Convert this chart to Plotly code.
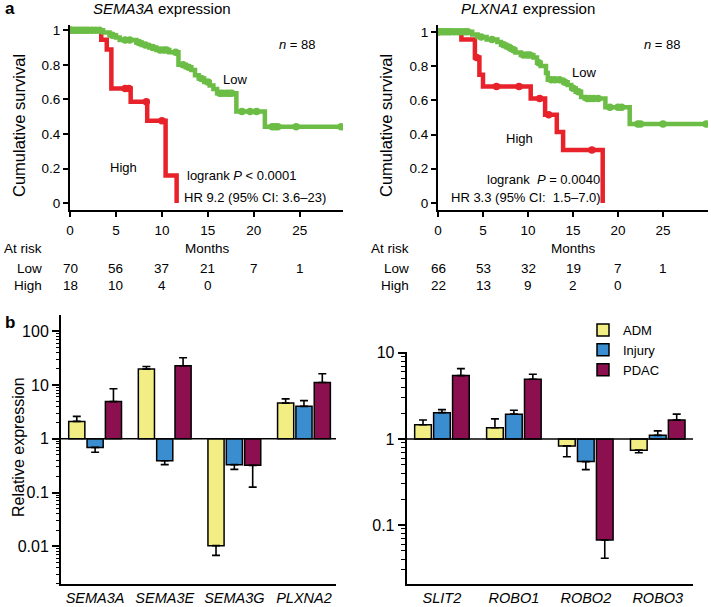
import numpy as np
import plotly.graph_objects as go

W, H = 711, 607
FONT = "Liberation Sans, Arial, Helvetica, sans-serif"
GREEN = "#6BBD45"
RED = "#E8222A"
C_ADM = "#F2EE84"
C_INJ = "#3A8ECF"
C_PDAC = "#8C1050"

# ---------------- Kaplan-Meier data ----------------
# SEMA3A
sema_low_t = [0, 3.6, 4.3, 5.0, 5.4, 7.2, 7.8, 8.6, 9.4, 10.8, 11.8, 12.6, 13.2, 13.6, 14.0, 14.6, 15.2, 15.6, 16.0, 18.1, 21.2]
sema_low_s = [1, 0.986, 0.971, 0.957, 0.943, 0.929, 0.914, 0.90, 0.886, 0.872, 0.80, 0.785, 0.77, 0.74, 0.72, 0.70, 0.68, 0.66, 0.635, 0.53, 0.441]
sema_low_end = 29.7
sema_low_cens = [0.2, 0.5, 0.8, 1.1, 1.4, 1.7, 2.0, 2.4, 2.8, 3.2, 4.6, 6.0, 6.5, 7.5, 8.2, 9.0, 9.8, 10.2, 10.5, 11.5,
                 12.3, 12.9, 14.3, 15.0, 16.3, 16.6, 17.0, 17.3, 17.6, 18.7, 19.6, 20.3, 22.0, 22.3, 22.6, 24.6, 29.5]
sema_high_t = [0, 3.4, 4.0, 4.5, 6.6, 8.4, 10.4, 11.6]
sema_high_s = [1, 0.944, 0.889, 0.663, 0.586, 0.476, 0.16, 0.0]
sema_high_end = 11.6
sema_high_cens = [6.0, 6.4, 8.3, 10.0]

# PLXNA1
plx_low_t = [0, 3.8, 4.4, 5.4, 6.6, 7.0, 7.6, 8.1, 8.6, 9.2, 10.6, 11.0, 11.4, 12.0, 12.2, 13.9, 14.4, 14.8, 15.3, 15.9, 16.3, 18.6, 21.3]
plx_low_s = [1, 0.985, 0.97, 0.955, 0.94, 0.925, 0.91, 0.895, 0.88, 0.865, 0.85, 0.82, 0.80, 0.76, 0.72, 0.705, 0.69, 0.67, 0.65, 0.62, 0.61, 0.56, 0.462]
plx_low_end = 30.0
plx_low_cens = [0.2, 0.5, 0.8, 1.1, 1.4, 1.8, 2.2, 2.6, 3.0, 3.3, 4.8, 6.0, 7.3, 7.9, 8.4, 9.5, 9.9, 10.2, 11.2, 12.6, 13.0,
                13.5, 14.1, 15.0, 15.6, 16.6, 16.9, 17.3, 17.8, 19.1, 20.0, 20.4, 22.2, 22.5, 25.0, 29.8]
plx_high_t = [0, 2.6, 4.1, 4.6, 5.0, 10.3, 11.9, 13.2, 13.9, 18.3]
plx_high_s = [1, 0.955, 0.85, 0.75, 0.68, 0.61, 0.515, 0.415, 0.31, 0.0]
plx_high_end = 18.3
plx_high_cens = [4.3, 6.5, 9.0, 11.3, 12.3, 17.1]

risk_times = [0, 5, 10, 15, 20, 25]
sema_risk_low = [70, 56, 37, 21, 7, 1]
sema_risk_high = [18, 10, 4, 0]
plx_risk_low = [66, 53, 32, 19, 7, 1]
plx_risk_high = [22, 13, 9, 2, 0]

# ---------------- Bar data (relative expression) ----------------
genes_left = ["SEMA3A", "SEMA3E", "SEMA3G", "PLXNA2"]
adm_left = [2.1, 19.7, 0.0103, 4.6]
inj_left = [0.69, 0.39, 0.33, 4.0]
pdac_left = [4.9, 22.7, 0.32, 11.1]
adm_left_err = [2.6, 22.0, 0.0068, 5.5]
inj_left_err = [0.56, 0.33, 0.27, 5.1]
pdac_left_err = [8.5, 32.0, 0.126, 16.1]

genes_right = ["SLIT2", "ROBO1", "ROBO2", "ROBO3"]
adm_right = [1.46, 1.35, 0.83, 0.74]
inj_right = [2.02, 1.94, 0.545, 1.10]
pdac_right = [5.44, 4.94, 0.067, 1.66]
adm_right_err = [1.66, 1.71, 0.62, 0.69]
inj_right_err = [2.19, 2.15, 0.44, 1.24]
pdac_right_err = [6.56, 5.65, 0.041, 1.94]

left_ticks = [0.01, 0.1, 1, 10, 100]
right_ticks = [0.1, 1, 10]


def px(x):
    return x / W


def py(y):
    return 1 - y / H


fig = go.Figure()


def km(t, s, end, cens, color, xa, ya):
    xs = list(t) + ([end] if end > t[-1] else [])
    ys = list(s) + ([s[-1]] if end > t[-1] else [])
    fig.add_trace(go.Scatter(x=xs, y=ys, mode="lines", line=dict(color=color, width=4.5, shape="hv"),
                             xaxis=xa, yaxis=ya, showlegend=False, hoverinfo="skip"))
    ta = np.array(t)
    cy = [s[np.searchsorted(ta, c, side="right") - 1] for c in cens]
    fig.add_trace(go.Scatter(x=[0] + list(cens), y=[1] + cy, mode="markers",
                             marker=dict(color=color, size=7.5, symbol="circle"),
                             xaxis=xa, yaxis=ya, showlegend=False))


km(sema_high_t, sema_high_s, sema_high_end, sema_high_cens, RED, "x", "y")
km(sema_low_t, sema_low_s, sema_low_end, sema_low_cens, GREEN, "x", "y")
km(plx_high_t, plx_high_s, plx_high_end, plx_high_cens, RED, "x2", "y2")
km(plx_low_t, plx_low_s, plx_low_end, plx_low_cens, GREEN, "x2", "y2")


# Bars are drawn on axes measured in log10 units (log-scale chart); bar grows from 1 (=10^0).
def bars(genes, vals, ends, name, color, xa, ya, legend):
    lv = np.log10(vals)
    le = np.log10(ends)
    plus = [max(e - v, 0) if v >= 0 else 0 for v, e in zip(lv, le)]
    minus = [max(v - e, 0) if v < 0 else 0 for v, e in zip(lv, le)]
    fig.add_trace(go.Bar(x=genes, y=lv, name=name, marker=dict(color=color, line=dict(color="black", width=1.5)),
                         error_y=dict(type="data", symmetric=False, array=plus, arrayminus=minus,
                                      color="black", thickness=1.6, width=4),
                         xaxis=xa, yaxis=ya, showlegend=legend, hoverinfo="skip"))


bars(genes_left, adm_left, adm_left_err, "ADM", C_ADM, "x3", "y3", True)
bars(genes_left, inj_left, inj_left_err, "Injury", C_INJ, "x3", "y3", True)
bars(genes_left, pdac_left, pdac_left_err, "PDAC", C_PDAC, "x3", "y3", True)
bars(genes_right, adm_right, adm_right_err, "ADM", C_ADM, "x4", "y4", False)
bars(genes_right, inj_right, inj_right_err, "Injury", C_INJ, "x4", "y4", False)
bars(genes_right, pdac_right, pdac_right_err, "PDAC", C_PDAC, "x4", "y4", False)

# invisible traces that carry the minor-tick overlay axes (so those axes get drawn)
fig.add_trace(go.Scatter(x=genes_left, y=np.log10(adm_left), mode="markers", marker=dict(opacity=0),
                         xaxis="x3", yaxis="y5", showlegend=False, hoverinfo="skip"))
fig.add_trace(go.Scatter(x=genes_right, y=np.log10(adm_right), mode="markers", marker=dict(opacity=0),
                         xaxis="x4", yaxis="y6", showlegend=False, hoverinfo="skip"))

axcommon = dict(showline=True, linecolor="black", linewidth=2, ticks="outside", tickcolor="black",
                tickwidth=1.5, ticklen=5, showgrid=False, zeroline=False, automargin=False,
                tickfont=dict(family=FONT, size=13.5, color="black"))

km_xticks = [0, 5, 10, 15, 20, 25]
km_yticks = [0, 0.2, 0.4, 0.6, 0.8, 1]
km_ytext = ["0", "0.2", "0.4", "0.6", "0.8", "1"]


def minor_log_positions(lo, hi):
    out = []
    for e in range(lo, hi):
        for k in range(2, 10):
            out.append(float(np.log10(k * 10.0 ** e)))
    return out


def fmt(v):
    return ("%g" % v)


minor_axis = dict(showline=False, showgrid=False, zeroline=False, automargin=False,
                  ticks="outside", ticklen=4.5, tickwidth=1.2, tickcolor="black", showticklabels=False,
                  tickmode="array", side="left")

fig.update_layout(
    template="none",
    width=W, height=H, margin=dict(l=0, r=0, t=0, b=0, autoexpand=False),
    paper_bgcolor="white", plot_bgcolor="white",
    font=dict(family=FONT, color="black"),
    barmode="group", bargap=0.21, bargroupgap=0.12,
    hovermode=False,
    xaxis=dict(axcommon, domain=[px(70), px(343)], range=[0, 29.7], anchor="y",
               tickmode="array", tickvals=km_xticks, ticklabelstandoff=2),
    yaxis=dict(axcommon, domain=[py(210), py(25)], range=[-0.04, 1.03], anchor="x",
               tickmode="array", tickvals=km_yticks, ticktext=km_ytext),
    xaxis2=dict(axcommon, domain=[px(438), px(708)], range=[0, 30], anchor="y2",
                tickmode="array", tickvals=km_xticks, ticklabelstandoff=2),
    yaxis2=dict(axcommon, domain=[py(210), py(25)], range=[-0.041, 1.04], anchor="x2",
                tickmode="array", tickvals=km_yticks, ticktext=km_ytext),
    xaxis3=dict(axcommon, domain=[px(61), px(336)], range=[-0.49, 3.46], anchor="y3", type="category",
                ticks="", ticklen=0, ticklabelstandoff=0,
                tickfont=dict(family=FONT, size=14.5, color="black", style="italic")),
    yaxis3=dict(axcommon, domain=[py(584), py(315)], range=[-2.70, 2.30], anchor="x3",
                tickmode="array", tickvals=[float(np.log10(v)) for v in left_ticks],
                ticktext=[fmt(v) for v in left_ticks], ticklen=7,
                tickfont=dict(family=FONT, size=16, color="black")),
    yaxis5=dict(minor_axis, overlaying="y3", anchor="x3", range=[-2.70, 2.30],
                tickvals=minor_log_positions(-3, 3)),
    xaxis4=dict(axcommon, domain=[px(406.7), px(693)], range=[-0.49, 3.49], anchor="y4", type="category",
                ticks="", ticklen=0, ticklabelstandoff=0,
                tickfont=dict(family=FONT, size=14.5, color="black", style="italic")),
    yaxis4=dict(axcommon, domain=[py(584), py(352)], range=[-1.686, 1.01], anchor="x4",
                tickmode="array", tickvals=[float(np.log10(v)) for v in right_ticks],
                ticktext=[fmt(v) for v in right_ticks], ticklen=7,
                tickfont=dict(family=FONT, size=16, color="black")),
    yaxis6=dict(minor_axis, overlaying="y4", anchor="x4", range=[-1.686, 1.01],
                tickvals=minor_log_positions(-2, 1)),
    legend=dict(x=px(583), y=py(315), xanchor="left", yanchor="top", bgcolor="rgba(0,0,0,0)",
                font=dict(family=FONT, size=13, color="black"), tracegroupgap=0, itemclick=False),
)

# baseline at relative expression 1 in bar charts
for xa, ya in (("x3", "y3"), ("x4", "y4")):
    fig.add_shape(type="line", xref=xa + " domain", yref=ya, x0=0, x1=1, y0=0, y1=0,
                  line=dict(color="black", width=1.5))

ann = []


def A(text, x, y, size=13, xanchor="center", angle=0, bold=False):
    ann.append(dict(text=("<b>%s</b>" % text) if bold else text, x=px(x), y=py(y), xref="paper", yref="paper",
                    showarrow=False, xanchor=xanchor, yanchor="middle", textangle=angle,
                    font=dict(family=FONT, size=size, color="black")))


A("a", 3, 9, 17, "left", bold=True)
A("b", 3, 322, 17, "left", bold=True)
A("<i>SEMA3A</i> expression", 162, 9, 15)
A("<i>PLXNA1</i> expression", 528, 9, 15)
A("Cumulative survival", 19, 126, 16.5, angle=-90)
A("Cumulative survival", 386, 125, 16.5, angle=-90)
A("<i>n</i> = 88", 297, 45, 13)
A("<i>n</i> = 88", 662, 45, 13)
A("Low", 235, 80, 13)
A("Low", 584, 73, 13)
A("High", 123, 168, 13)
A("High", 519, 139, 13)
A("logrank <i>P</i> &lt; 0.0001", 185, 176, 13, "left")
A("HR 9.2 (95% CI: 3.6–23)", 182, 197, 13, "left")
A("logrank  <i>P</i> = 0.0040", 485, 179, 13, "left")
A("HR 3.3 (95% CI:  1.5–7.0)", 449, 197, 13, "left")
A("Relative expression", 18, 447, 16, angle=-90)

# At-risk tables
for xa, xoff, low, high in (("x", 0, sema_risk_low, sema_risk_high), ("x2", 367, plx_risk_low, plx_risk_high)):
    A("At risk", 2 + xoff, 248, 13.5, "left")
    ann.append(dict(text="Months", x=15, y=py(248), xref=xa, yref="paper", showarrow=False,
                    xanchor="center", yanchor="middle", font=dict(family=FONT, size=13.5, color="black")))
    A("Low", 44 + xoff, 268, 13.5, "right")
    A("High", 44 + xoff, 285, 13.5, "right")
    for t, v in zip(risk_times, low):
        ann.append(dict(text=str(v), x=t, y=py(268), xref=xa, yref="paper", showarrow=False,
                        xanchor="center", yanchor="middle", font=dict(family=FONT, size=13.5, color="black")))
    for t, v in zip(risk_times, high):
        ann.append(dict(text=str(v), x=t, y=py(285), xref=xa, yref="paper", showarrow=False,
                        xanchor="center", yanchor="middle", font=dict(family=FONT, size=13.5, color="black")))

fig.update_layout(annotations=ann)
fig.write_html("out.html", config={"displayModeBar": False},
               post_script="document.body.style.margin='0';document.body.style.padding='0';")
